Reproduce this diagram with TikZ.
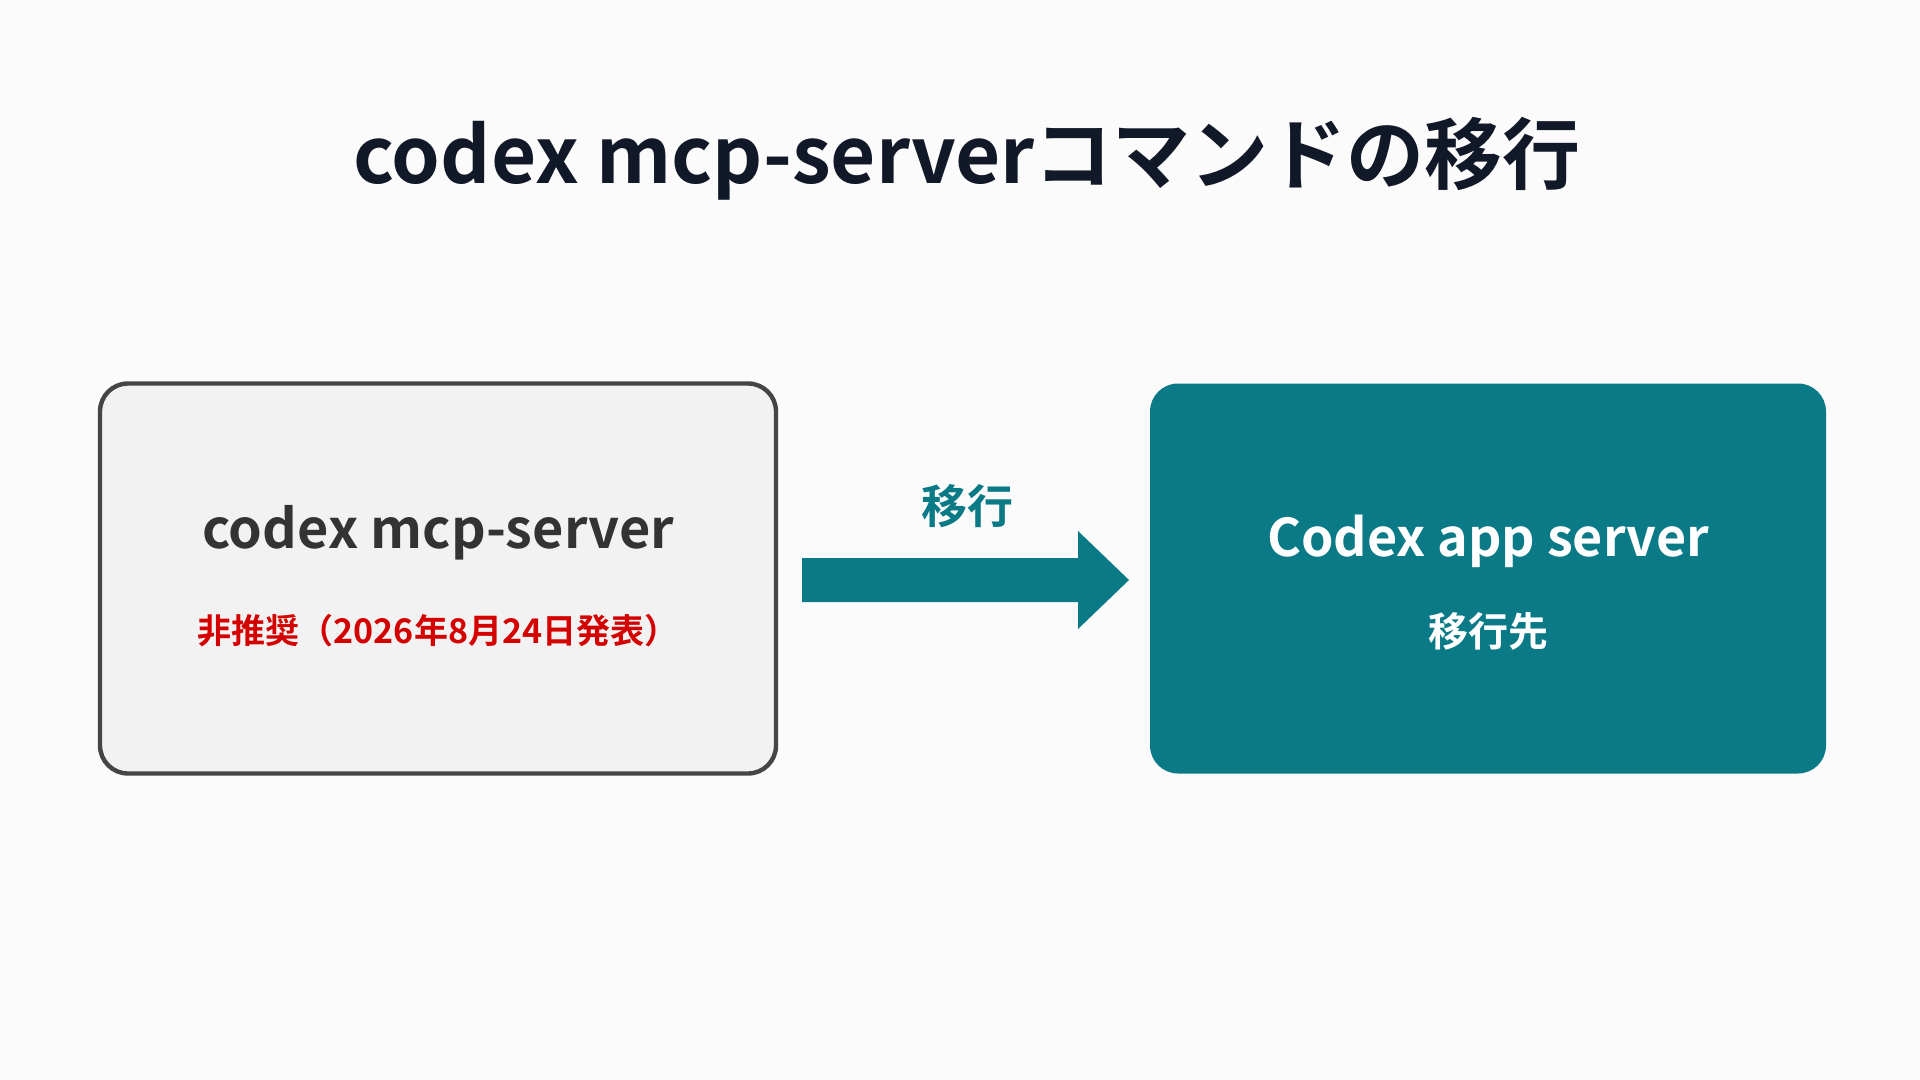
\documentclass[tikz,border=0pt]{standalone}
\usepackage{fontspec}
\setmainfont{Noto Sans CJK JP}[BoldFont={Noto Sans CJK JP Bold}]
\newfontfamily\jp{Noto Sans CJK JP Bold}
\definecolor{teal1}{HTML}{0A7A86}
\definecolor{navy}{HTML}{111827}
\definecolor{boxfill}{HTML}{F2F2F2}
\definecolor{boxline}{HTML}{454545}
\definecolor{txt}{HTML}{333333}
\definecolor{redx}{HTML}{D40000}
\definecolor{bg}{HTML}{FBFBFB}
\begin{document}
\begin{tikzpicture}[x=0.5pt,y=-0.5pt,
  box/.style={rounded corners=14pt,minimum width=338pt,minimum height=195pt,inner sep=0pt},
  lbl/.style={font=\jp,inner sep=0pt,anchor=center}]
\fill[bg] (0,0) rectangle (1920,1080);
\useasboundingbox (0,0) rectangle (1920,1080);
\node[lbl,text=navy,font=\jp\fontsize{39}{44}\selectfont] (title) at (967,159) {codex mcp-serverコマンドの移行};
\node[box,draw=boxline,line width=2.2pt,fill=boxfill] (old) at (438,578.5) {};
\node[box,fill=teal1] (new) at (1488,578.5) {};
\node[lbl,text=txt,font=\jp\fontsize{27}{30}\selectfont] (oldt) at (438,533) {codex mcp-server};
\node[lbl,text=redx,font=\jp\fontsize{17}{20}\selectfont] (olds) at (438,631) {非推奨（2026年8月24日発表）};
\node[lbl,text=white,font=\jp\fontsize{26}{30}\selectfont] (newt) at (1488,541) {Codex app server};
\node[lbl,text=white,font=\jp\fontsize{20}{24}\selectfont] (news) at (1488,631) {移行先};
\coordinate (as) at (802,580);
\coordinate (ae) at (1129,580);
\fill[teal1] (802,558) -- (1078,558) -- (1078,531) -- (1129,580) -- (1078,629) -- (1078,602) -- (802,602) -- cycle;
\node[lbl,text=teal1,font=\jp\fontsize{23}{26}\selectfont] (arl) at (967,506) {移行};
\end{tikzpicture}
\end{document}
